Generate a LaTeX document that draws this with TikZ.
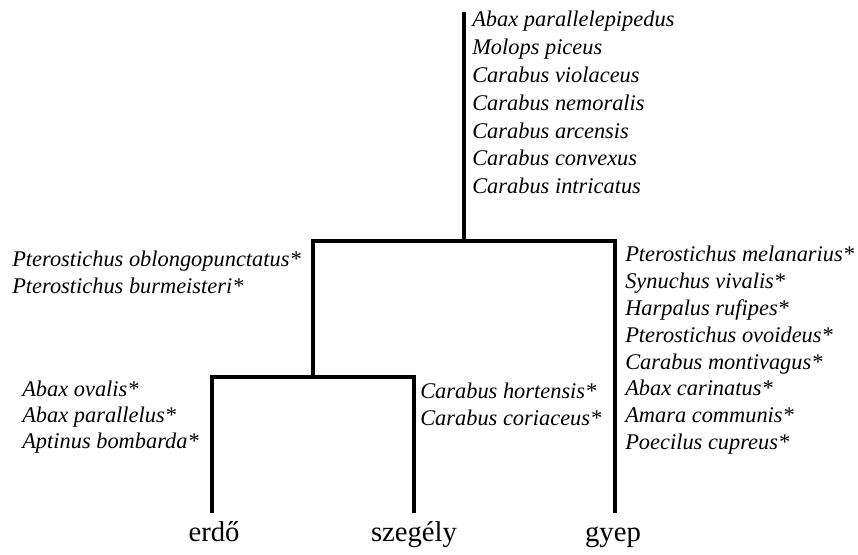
\documentclass[tikz,border=0pt]{standalone}
\usepackage{fontspec}
\setmainfont{Liberation Serif}
\usepackage{tikz}
\tikzset{
    branch/.style={line width=2.7pt},
    species/.style={anchor=base west, inner sep=0pt, font=\fontsize{16.8}{20}\selectfont\itshape},
    habitat/.style={anchor=base, inner sep=0pt, font=\fontsize{21.5}{25}\selectfont}
}
% #1 name, #2 x, #3 first baseline, #4 line step, #5 names
\newcommand\specieslist[5]{
    \foreach \s [count=\i] in {#5}
        \node[species] (#1\i) at (#2,{#3+#4*(\i-1)}) {\s};
}

\begin{document}
\begin{tikzpicture}[x=0.75pt,y=-0.75pt]
            \useasboundingbox (0,0) rectangle (858,555);
            \coordinate (top)    at (464,12);
            \coordinate (root)   at (464,241);
            \coordinate (wood)   at (313,241);
            \coordinate (grass)  at (615,241);
            \coordinate (split)  at (313,377);
            \coordinate (erdoT)  at (212,377);
            \coordinate (szegT)  at (414,377);
            \coordinate (erdoB)  at (212,513);
            \coordinate (szegB)  at (414,513);
            \coordinate (gyepB)  at (615,513);
            \draw[branch] (top) -- (root);
            \draw[branch] (split) -- (wood) -- (grass) -- (gyepB);
            \draw[branch] (erdoB) -- (erdoT) -- (szegT) -- (szegB);
            \specieslist{a}{472}{27}{27.8}{Abax parallelepipedus,Molops piceus,Carabus violaceus,Carabus nemoralis,Carabus arcensis,Carabus convexus,Carabus intricatus}
            \specieslist{b}{12}{267}{27}{Pterostichus oblongopunctatus*,Pterostichus burmeisteri*}
            \specieslist{c}{625}{262}{26.8}{Pterostichus melanarius*,Synuchus vivalis*,Harpalus rufipes*,Pterostichus ovoideus*,Carabus montivagus*,Abax carinatus*,Amara communis*,Poecilus cupreus*}
            \specieslist{d}{22}{397}{26}{Abax ovalis*,Abax parallelus*,Aptinus bombarda*}
            \specieslist{e}{420}{399}{27}{Carabus hortensis*,Carabus coriaceus*}
            \node[habitat] (erdo)   at (214,542) {erdő};
            \node[habitat] (szegely) at (414,542) {szegély};
            \node[habitat] (gyep)   at (613,542) {gyep};
        \end{tikzpicture}
\end{document}
